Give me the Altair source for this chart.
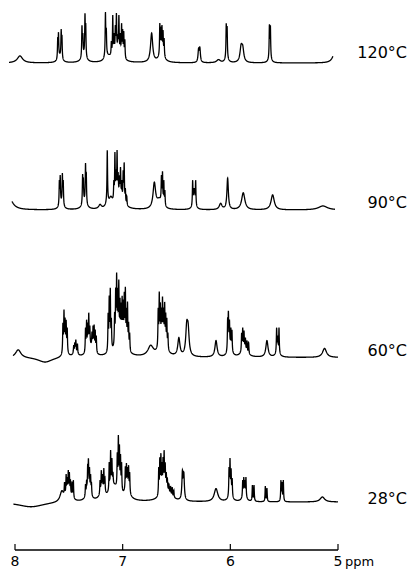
import numpy as np
import pandas as pd
import altair as alt

# ---------------- data ----------------
temps = ["120°C", "90°C", "60°C", "28°C"]
start_ppm = [8.056, 8.028, 8.020, 8.016]
end_ppm = [5.047, 5.028, 5.000, 5.000]

S = 0.003  # half width of a sharp line (ppm)

# (position ppm, height read above the baseline, half width ppm)
# lines narrower than 0.015 ppm: height = height of the trace at that line
# broader bands: their own amplitude
peaks_120 = [
    (7.954, 7, 0.03),
    (7.603, 26, S), (7.596, 31, S), (7.571, 34, S), (7.564, 28, S), (7.583, 6, 0.02),
    (7.378, 38, S), (7.370, 30, S), (7.350, 50, S), (7.343, 40, S), (7.360, 7, 0.025),
    (7.160, 51, S), (7.152, 35, S), (7.156, 4, 0.015), (7.130, 4, 0.03),
    (7.105, 22, S), (7.092, 48, S), (7.080, 30, S), (7.068, 38, S), (7.058, 50, S),
    (7.045, 28, S), (7.035, 48, S), (7.022, 30, S), (7.010, 40, S), (7.000, 34, S),
    (6.990, 32, S), (6.980, 24, S), (7.050, 10, 0.04),
    (6.731, 30, 0.012),
    (6.655, 40, S), (6.645, 36, S), (6.635, 38, S), (6.625, 33, S), (6.615, 25, S),
    (6.640, 8, 0.03),
    (6.295, 15, 0.006), (6.283, 16, 0.006),
    (6.110, 3, 0.02),
    (6.038, 40, S), (6.030, 37, S), (6.034, 5, 0.015),
    (5.900, 19, 0.012), (5.885, 18, 0.012),
    (5.637, 39, S), (5.628, 38, S), (5.632, 5, 0.015),
    (5.030, 10, 0.025),
]

peaks_90 = [
    (8.060, 14, 0.04),
    (7.588, 30, S), (7.580, 35, S), (7.560, 37, S), (7.552, 30, S), (7.570, 6, 0.02),
    (7.372, 36, S), (7.365, 32, S), (7.345, 47, S), (7.338, 38, S), (7.355, 7, 0.025),
    (7.210, 4, 0.015),
    (7.143, 60, S), (7.143, 5, 0.015), (7.110, 9, 0.02),
    (7.082, 30, S), (7.072, 58, S), (7.062, 40, S), (7.052, 60, S), (7.042, 38, S),
    (7.030, 34, S), (7.020, 43, S), (7.008, 30, S), (6.995, 40, S), (6.986, 48, S),
    (6.975, 22, S), (6.962, 14, S), (7.030, 12, 0.04),
    (6.706, 28, 0.014),
    (6.640, 35, S), (6.630, 39, S), (6.618, 30, S), (6.608, 20, S), (6.660, 9, 0.03),
    (6.350, 30, S), (6.340, 22, S), (6.332, 22, S), (6.322, 30, S), (6.336, 5, 0.02),
    (6.090, 6, 0.015),
    (6.025, 32, 0.008),
    (5.880, 17, 0.018),
    (5.607, 15, 0.018),
    (5.140, 4, 0.05),
]

peaks_60 = [
    (7.970, 8, 0.03), (7.720, -5, 0.08),
    (7.555, 35, S), (7.545, 48, S), (7.535, 40, S), (7.525, 38, S), (7.515, 30, S),
    (7.535, 8, 0.02),
    (7.455, 12, S), (7.445, 15, S), (7.435, 18, S), (7.420, 14, S), (7.440, 5, 0.02),
    (7.345, 30, S), (7.335, 38, S), (7.325, 35, S), (7.315, 45, S), (7.305, 32, S),
    (7.285, 26, S), (7.275, 32, S), (7.265, 33, S), (7.255, 28, S), (7.245, 22, S),
    (7.300, 10, 0.03),
    (7.135, 45, S), (7.125, 62, S), (7.115, 70, S), (7.105, 40, S),
    (7.075, 45, S), (7.065, 70, S), (7.056, 85, S), (7.046, 70, S), (7.036, 78, S),
    (7.025, 60, S), (7.015, 55, S), (7.005, 62, S), (6.995, 58, S), (6.985, 66, S),
    (6.975, 71, S), (6.965, 50, S), (6.955, 56, S), (6.945, 36, S), (6.935, 25, S),
    (7.030, 15, 0.05),
    (6.740, 10, 0.03),
    (6.670, 50, S), (6.660, 66, S), (6.650, 55, S), (6.640, 50, S), (6.630, 61, S),
    (6.620, 50, S), (6.610, 56, S), (6.600, 45, S), (6.590, 40, S), (6.580, 25, S),
    (6.630, 12, 0.04),
    (6.478, 20, 0.012),
    (6.405, 37, 0.011), (6.392, 35, 0.011),
    (6.133, 17, 0.012),
    (6.025, 40, S), (6.018, 47, S), (6.008, 38, S), (5.995, 30, S), (5.985, 28, S),
    (6.005, 8, 0.02),
    (5.895, 25, S), (5.885, 30, S), (5.873, 27, S), (5.860, 20, S), (5.845, 17, S),
    (5.830, 15, S), (5.870, 8, 0.03),
    (5.660, 17, 0.012),
    (5.570, 30, S), (5.560, 22, S), (5.548, 30, S), (5.560, 5, 0.02),
    (5.125, 9, 0.022),
]

peaks_28 = [
    (7.850, -5, 0.15),
    (7.565, 10, 0.02), (7.540, 20, S), (7.525, 28, S), (7.515, 25, S), (7.505, 32, S),
    (7.495, 30, S), (7.485, 22, S), (7.470, 20, S), (7.458, 22, S), (7.505, 8, 0.03),
    (7.345, 18, S), (7.335, 22, S), (7.325, 38, S), (7.318, 44, S), (7.308, 35, S),
    (7.298, 28, S), (7.290, 20, S), (7.318, 8, 0.025),
    (7.210, 22, S), (7.198, 32, S), (7.188, 28, S), (7.175, 34, S), (7.165, 25, S),
    (7.190, 8, 0.025),
    (7.125, 40, S), (7.112, 52, S), (7.100, 44, S), (7.090, 30, S),
    (7.050, 50, S), (7.040, 67, S), (7.030, 58, S), (7.020, 48, S), (7.010, 40, S),
    (7.080, 15, 0.05),
    (6.975, 36, S), (6.965, 39, S), (6.955, 35, S), (6.945, 37, S), (6.935, 30, S),
    (6.960, 10, 0.03),
    (6.665, 35, S), (6.655, 45, S), (6.645, 49, S), (6.635, 40, S), (6.625, 45, S),
    (6.615, 52, S), (6.605, 40, S), (6.595, 30, S), (6.585, 24, S), (6.570, 18, S),
    (6.555, 16, S), (6.540, 15, S), (6.525, 12, S), (6.600, 12, 0.05),
    (6.445, 32, 0.006), (6.432, 30, 0.006),
    (6.133, 13, 0.02),
    (6.012, 35, S), (6.003, 44, S), (5.993, 34, S), (5.983, 24, S), (6.000, 6, 0.02),
    (5.885, 22, S), (5.875, 25, S), (5.865, 22, S), (5.855, 25, S), (5.870, 6, 0.02),
    (5.795, 17, S), (5.780, 17, S),
    (5.675, 16, S), (5.660, 14, S),
    (5.530, 22, S), (5.520, 20, S), (5.508, 22, S),
    (5.145, 5, 0.025),
]

all_peaks = [peaks_120, peaks_90, peaks_60, peaks_28]

tick_ppm = [8, 7, 6, 5]
tick_labels = ["8", "7", "6", "5"]
unit_label = "ppm"

# ---------------- layout (chart units = pixels) ----------------
W, H = 400, 564
trace_offset = [509, 362, 214.5, 70]
label_offset = [519, 369, 221, 73]
axis_y = 22
tick_len = 6
axis_label_y = 10


def lor(d, w):
    return 1.0 / (1.0 + (d / w) ** 2)


def amplitudes(pk):
    pos = np.array([p[0] for p in pk], float)
    val = np.array([p[1] for p in pk], float)
    wid = np.array([p[2] for p in pk], float)
    line = wid < 0.015
    M = lor(pos[:, None] - pos[None, :], wid[None, :])
    amp = val.copy()
    # lines: find amplitudes so the trace height at each line equals the read height
    for _ in range(300):
        cur = M @ amp
        amp[line] = np.maximum(0.0, amp[line] + 0.6 * (val[line] - cur[line]))
    return pos, amp, wid


rows = []
for t, pk, a, b, off in zip(temps, all_peaks, start_ppm, end_ppm, trace_offset):
    pos, amp, wid = amplitudes(pk)
    x = np.arange(b, a, 0.0008)
    y = off + (amp[None, :] * lor(x[:, None] - pos[None, :], wid[None, :])).sum(axis=1)
    rows.append(pd.DataFrame({"ppm": np.round(x, 4), "y": np.round(y, 2), "temp": t}))
spec = pd.concat(rows, ignore_index=True)

xs = alt.Scale(domain=[8, 5], range=[7, 330])
ys = alt.Scale(domain=[0, H], nice=False, zero=False)

lines = alt.Chart(spec).mark_line(color="black", strokeWidth=1.3).encode(
    x=alt.X("ppm:Q", scale=xs, axis=None),
    y=alt.Y("y:Q", scale=ys, axis=None),
    detail="temp:N",
)

lab_df = pd.DataFrame({"temp": temps, "y": label_offset})
labels = alt.Chart(lab_df).mark_text(
    align="right", baseline="middle", font="DejaVu Sans", fontSize=16, color="black"
).encode(x=alt.value(399), y=alt.Y("y:Q", scale=ys, axis=None), text="temp:N")

ax_df = pd.DataFrame({"a": [tick_ppm[0]], "b": [tick_ppm[-1]], "y": [axis_y]})
axis_line = alt.Chart(ax_df).mark_rule(color="black", strokeWidth=1.3).encode(
    x=alt.X("a:Q", scale=xs, axis=None), x2="b:Q",
    y=alt.Y("y:Q", scale=ys, axis=None),
)

tk_df = pd.DataFrame({"ppm": tick_ppm, "lab": tick_labels,
                      "y0": [axis_y] * 4, "y1": [axis_y + tick_len] * 4,
                      "ly": [axis_label_y] * 4})
ticks = alt.Chart(tk_df).mark_rule(color="black", strokeWidth=1.2).encode(
    x=alt.X("ppm:Q", scale=xs, axis=None),
    y=alt.Y("y0:Q", scale=ys, axis=None), y2="y1:Q",
)
tick_text = alt.Chart(tk_df).mark_text(
    align="center", baseline="middle", font="DejaVu Sans", fontSize=14, color="black"
).encode(
    x=alt.X("ppm:Q", scale=xs, axis=None),
    y=alt.Y("ly:Q", scale=ys, axis=None), text="lab:N",
)
unit_df = pd.DataFrame({"ppm": [tick_ppm[-1]], "ly": [axis_label_y], "lab": [unit_label]})
unit_text = alt.Chart(unit_df).mark_text(
    align="left", baseline="middle", dx=7, font="DejaVu Sans", fontSize=13, color="black"
).encode(
    x=alt.X("ppm:Q", scale=xs, axis=None),
    y=alt.Y("ly:Q", scale=ys, axis=None), text="lab:N",
)

chart = alt.layer(lines, labels, axis_line, ticks, tick_text, unit_text).properties(
    width=W, height=H, autosize=alt.AutoSizeParams(type="none"), padding=0
).configure_view(stroke=None)

chart.save("out.html", embed_options={"renderer": "svg", "actions": False})
